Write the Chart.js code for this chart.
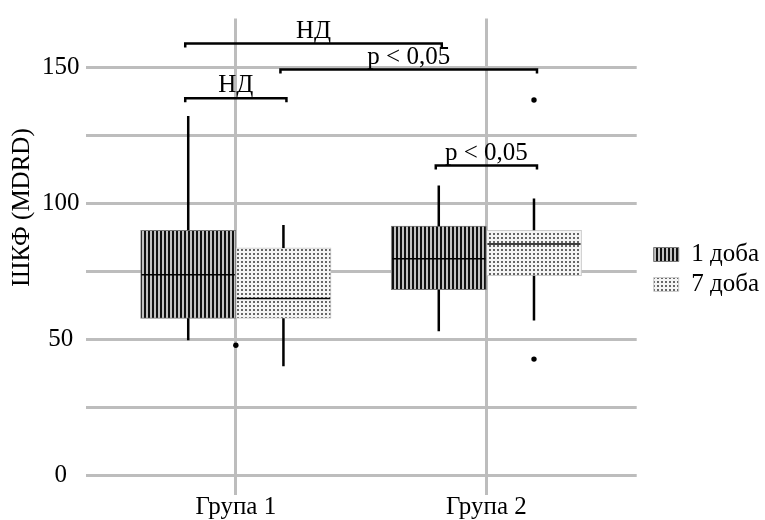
<!DOCTYPE html>
<html>
<head>
<meta charset="utf-8">
<script src="https://cdn.jsdelivr.net/npm/chart.js@4.4.1/dist/chart.umd.min.js"></script>
<style>
  html, body { margin: 0; padding: 0; background: #fff; }
</style>
</head>
<body>
<canvas id="chart" width="765" height="520"></canvas>
<script>
const groups = ['Група 1', 'Група 2'];
const series = ['1 доба', '7 доба'];

// box statistics per group
const day1Min = [49.6, 52.9];
const day1Q1 = [57.7, 68.2];
const day1Median = [73.7, 79.6];
const day1Q3 = [90.1, 91.6];
const day1Max = [132.1, 106.6];

const day7Min = [40.1, 56.9];
const day7Q1 = [57.7, 73.4];
const day7Median = [65.0, 85.0];
const day7Q3 = [83.6, 90.1];
const day7Max = [92.0, 101.8];

// outliers ('' series = dot sits between the two boxes, as in the figure)
const outlierValues = [47.8, 138.0, 42.7];
const outlierGroups = ['Група 1', 'Група 2', 'Група 2'];
const outlierSeries = ['', '7 доба', '7 доба'];

// significance brackets
const bracketLabels = ['НД', 'p < 0,05', 'НД', 'p < 0,05'];
const bracketLevels = [158.8, 149.2, 138.7, 113.9];
const bracketFrom = [['Група 1', '1 доба'], ['Група 1', '7 доба'], ['Група 1', '1 доба'], ['Група 2', '1 доба']];
const bracketTo = [['Група 2', '1 доба'], ['Група 2', '7 доба'], ['Група 1', '7 доба'], ['Група 2', '7 доба']];

const yTicks = [0, 25, 50, 75, 100, 125, 150];
const yTickLabels = ['0', '', '50', '', '100', '', '150'];
const yTitle = 'ШКФ (MDRD)';

const FONT = 'Liberation Serif';
const BOX_W = 0.38;

function xOf(group, ser) {
    const g = groups.indexOf(group) + 1;
    if (ser === '') return g;
    return g + (series.indexOf(ser) - 0.5) * BOX_W;
}

function makePattern(kind) {
    const c = document.createElement('canvas');
    c.width = 4; c.height = 4;
    const p = c.getContext('2d');
    if (kind === 'stripes') {
        p.fillStyle = '#c2c2c2';
        p.fillRect(0, 0, 4, 4);
        p.fillStyle = '#111';
        p.fillRect(0, 0, 2, 4);
    } else {
        p.fillStyle = '#f4f4f4';
        p.fillRect(0, 0, 4, 4);
        p.fillStyle = '#666';
        p.fillRect(1, 1, 2, 2);
    }
    return p.createPattern(c, 'repeat');
}

const stats = [
    { min: day1Min, q1: day1Q1, med: day1Median, q3: day1Q3, max: day1Max },
    { min: day7Min, q1: day7Q1, med: day7Median, q3: day7Q3, max: day7Max }
];

const boxExtras = {
    id: 'boxExtras',
    afterDatasetsDraw(chart) {
        const ctx = chart.ctx;
        const ys = chart.scales.y;
        ctx.save();
        ctx.strokeStyle = '#000';
        stats.forEach((s, di) => {
            chart.getDatasetMeta(di).data.forEach((el, j) => {
                const half = el.width / 2;
                ctx.lineWidth = 2.5;
                ctx.beginPath();
                ctx.moveTo(el.x, ys.getPixelForValue(s.q3[j]));
                ctx.lineTo(el.x, ys.getPixelForValue(s.max[j]));
                ctx.moveTo(el.x, ys.getPixelForValue(s.q1[j]));
                ctx.lineTo(el.x, ys.getPixelForValue(s.min[j]));
                ctx.stroke();
                ctx.lineWidth = 1.5;
                ctx.beginPath();
                ctx.moveTo(el.x - half + 1, ys.getPixelForValue(s.med[j]));
                ctx.lineTo(el.x + half - 1, ys.getPixelForValue(s.med[j]));
                ctx.stroke();
            });
        });

        // brackets
        const xs = chart.scales.x;
        ctx.lineWidth = 2.5;
        ctx.fillStyle = '#000';
        ctx.font = '25px "' + FONT + '"';
        ctx.textAlign = 'center';
        ctx.textBaseline = 'alphabetic';
        bracketLabels.forEach((lab, i) => {
            const x1 = xs.getPixelForValue(xOf(bracketFrom[i][0], bracketFrom[i][1])) - 3;
            const x2 = xs.getPixelForValue(xOf(bracketTo[i][0], bracketTo[i][1])) + 3;
            const yy = ys.getPixelForValue(bracketLevels[i]);
            ctx.beginPath();
            ctx.moveTo(x1, yy + 4);
            ctx.lineTo(x1, yy);
            ctx.lineTo(x2, yy);
            ctx.lineTo(x2, yy + 4);
            ctx.stroke();
            ctx.fillText(lab, (x1 + x2) / 2, yy - 6);
        });
        ctx.restore();
    },
    afterLayout(chart) {
        if (chart.legend) {
            chart.legend.left += 12;
            chart.legend.right += 12;
            chart.legend.top += 2;
            chart.legend.bottom += 2;
        }
    },
    afterDraw(chart) {
        const ctx = chart.ctx;
        const area = chart.chartArea;
        ctx.save();
        ctx.translate(22, area.top + 189);
        ctx.rotate(-Math.PI / 2);
        ctx.font = '25px "' + FONT + '"';
        ctx.fillStyle = '#000';
        ctx.textAlign = 'center';
        ctx.textBaseline = 'middle';
        ctx.fillText(yTitle, 0, 0);
        ctx.restore();
    }
};

const ctx = document.getElementById('chart').getContext('2d');

const chart = new Chart(ctx, {
    type: 'bar',
    data: {
        datasets: [
            {
                label: series[0],
                data: groups.map((g, i) => ({ x: xOf(g, series[0]), y: [day1Q1[i], day1Q3[i]] })),
                backgroundColor: makePattern('stripes'),
                borderColor: '#777',
                borderWidth: 1,
                borderSkipped: false,
                grouped: false,
                barPercentage: 1,
                categoryPercentage: 1
            },
            {
                label: series[1],
                data: groups.map((g, i) => ({ x: xOf(g, series[1]), y: [day7Q1[i], day7Q3[i]] })),
                backgroundColor: makePattern('dots'),
                borderColor: '#ccc',
                borderWidth: 1,
                borderSkipped: false,
                grouped: false,
                barPercentage: 1,
                categoryPercentage: 1
            },
            {
                type: 'scatter',
                label: 'outliers',
                data: outlierValues.map((v, i) => ({ x: xOf(outlierGroups[i], outlierSeries[i]), y: v })),
                pointRadius: 2.7,
                pointBackgroundColor: '#000',
                pointBorderWidth: 0
            }
        ]
    },
    options: {
        responsive: false,
        animation: false,
        layout: { padding: { left: 36, right: 8, top: 15, bottom: 0 } },
        plugins: {
            legend: {
                position: 'right',
                align: 'center',
                labels: {
                    filter: (item) => item.datasetIndex < 2,
                    font: { family: FONT, size: 25 },
                    color: '#000',
                    boxWidth: 25,
                    boxHeight: 14,
                    padding: 5
                }
            },
            tooltip: { enabled: false }
        },
        scales: {
            x: {
                type: 'linear',
                offset: false,
                min: 0.4,
                max: 2.6,
                afterBuildTicks: (scale) => { scale.ticks = groups.map((g, i) => ({ value: i + 1 })); },
                ticks: {
                    callback: (v) => groups[v - 1],
                    font: { family: FONT, size: 25, lineHeight: 1 },
                    color: '#000',
                    padding: 0,
                    maxRotation: 0
                },
                grid: { color: '#bdbdbd', lineWidth: 3, drawTicks: false, offset: false },
                border: { display: false }
            },
            y: {
                type: 'linear',
                min: -7.3,
                max: 168,
                afterBuildTicks: (scale) => { scale.ticks = yTicks.map(v => ({ value: v })); },
                ticks: {
                    callback: (v) => yTickLabels[yTicks.indexOf(v)],
                    font: { family: FONT, size: 25, lineHeight: 1 },
                    color: '#000',
                    padding: 6,
                    crossAlign: 'center'
                },
                grid: { color: '#bdbdbd', lineWidth: 3, drawTicks: false },
                border: { display: false }
            }
        }
    },
    plugins: [boxExtras]
});
</script>
</body>
</html>
